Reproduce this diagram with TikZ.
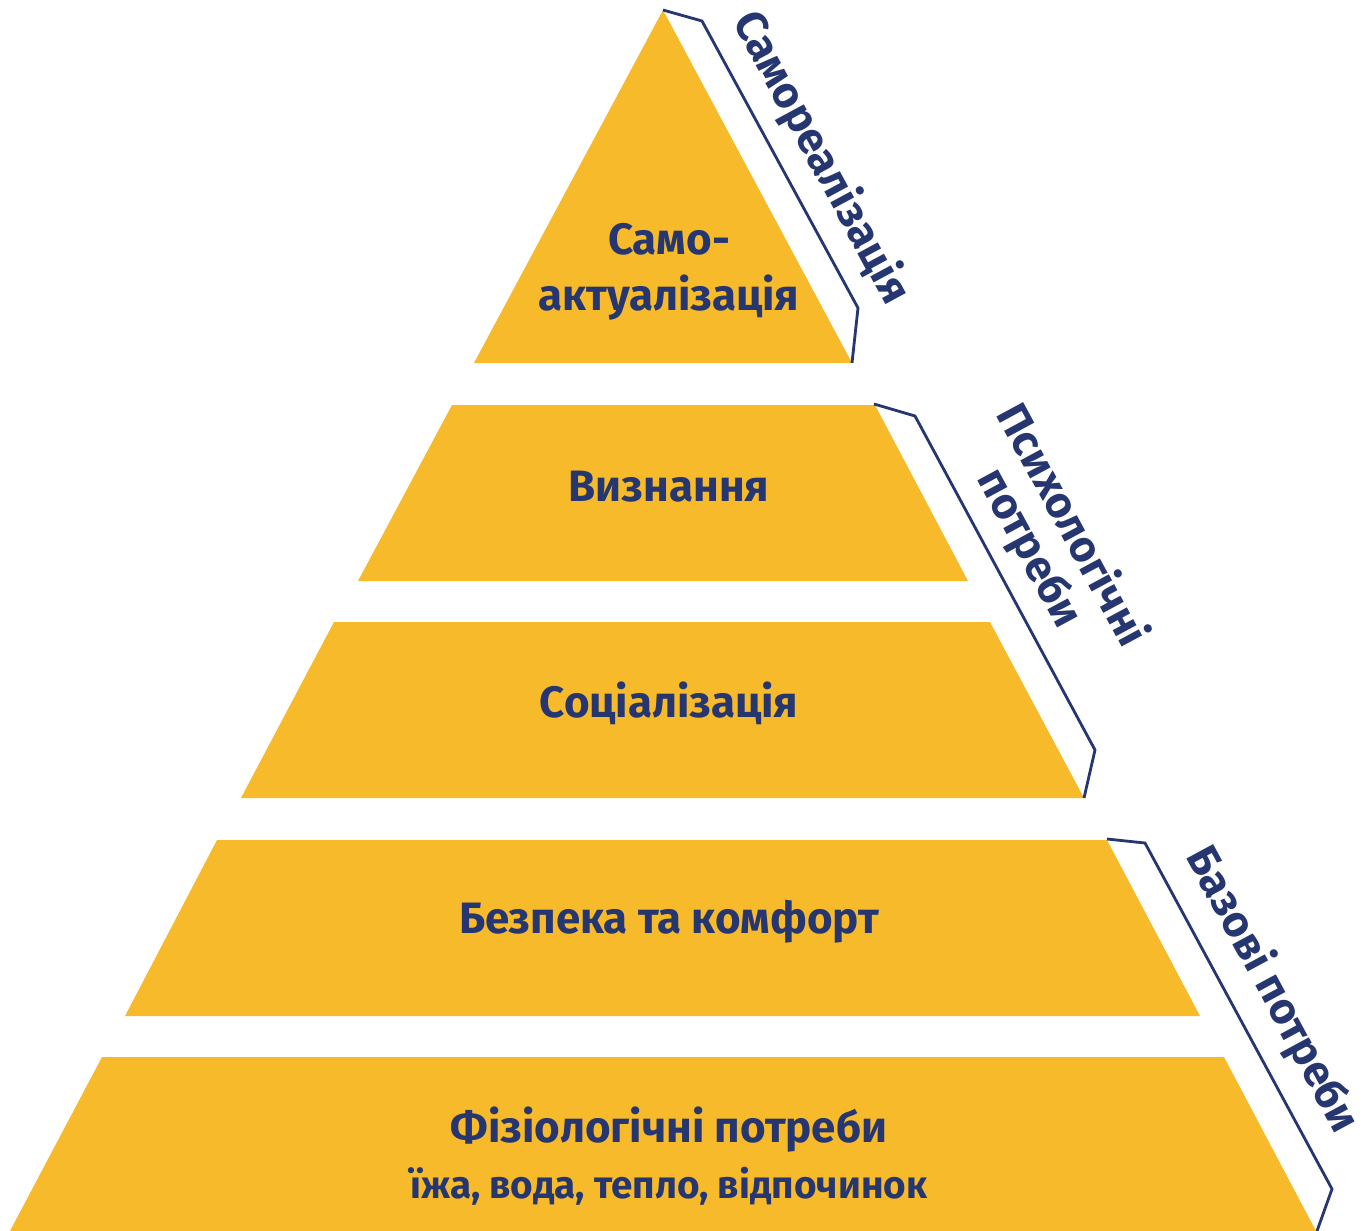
\documentclass[tikz,border=0pt]{standalone}
\usepackage{fontspec}
\setmainfont{Fira Sans}
\usepackage{tikz}
\usetikzlibrary{positioning}
\definecolor{pyryellow}{RGB}{247,186,42}
\definecolor{pyrnavy}{RGB}{37,54,112}

\begin{document}
\begin{tikzpicture}[
  x=0.02cm, y=-0.02cm,
  level/.style={fill=pyryellow},
  levtext/.style={text=pyrnavy, align=center,
               font=\fontsize{25}{32}\selectfont\bfseries},
  bracket/.style={draw=pyrnavy, line width=1.6pt, line join=miter},
  side/.style={text=pyrnavy, align=center, rotate=-61.6,
               font=\fontsize{25}{27}\selectfont\bfseries}
]
\useasboundingbox (0,0) rectangle (1367,1231);

% pyramid levels
\fill[level] (663,10) -- (852,363) -- (474,363) -- cycle;
\fill[level] (452,405) -- (875,405) -- (968,581) -- (358,581) -- cycle;
\fill[level] (334,622) -- (990,622) -- (1084,798) -- (241,798) -- cycle;
\fill[level] (217,840) -- (1107,840) -- (1200,1016) -- (125,1016) -- cycle;
\fill[level] (102,1057) -- (1224,1057) -- (1316,1231) -- (10,1231) -- cycle;

\node[levtext] (self) at (669,272) {Само-\\актуалізація};
\node[levtext] (esteem) at (669,487) {Визнання};
\node[levtext] (social) at (669,703) {Соціалізація};
\node[levtext] (safety) at (669,922) {Безпека та комфорт};
\node[levtext] (physio) at (669,1156)
  {Фізіологічні потреби\\{\fontsize{22}{26}\selectfont їжа, вода, тепло, відпочинок}};

% side brackets
\draw[bracket] (663,10) -- (702,21) -- (858,308) -- (852,363);
\draw[bracket] (874,404) -- (915,416) -- (1095,750) -- (1084,798);
\draw[bracket] (1107,839) -- (1145,843) -- (1332,1189) -- (1317,1231);

\node[side] (grpself) at (821,158) {Самореалізація};
\node[side] (grppsy) at (1050,537) {Психологічні\\потреби};
\node[side] (grpbase) at (1272,990) {Базові потреби};
\end{tikzpicture}
\end{document}
